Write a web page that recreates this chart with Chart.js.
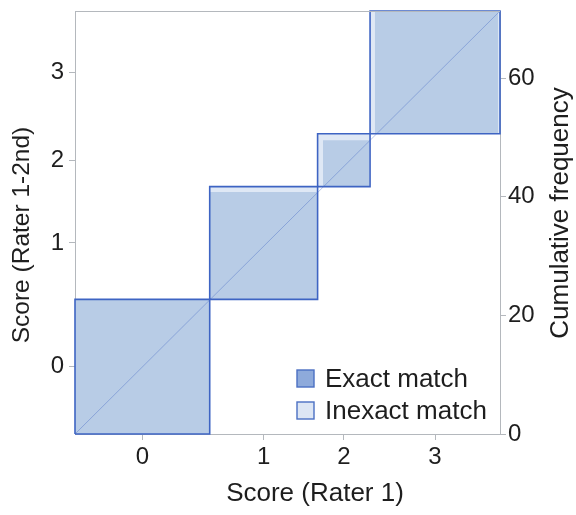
<!DOCTYPE html>
<html>
<head>
<meta charset="utf-8">
<script src="https://cdn.jsdelivr.net/npm/chart.js@4.4.1/dist/chart.umd.min.js"></script>
<style>
  html, body { margin: 0; padding: 0; background: #fff; }
  #wrap { width: 576px; height: 515px; }
</style>
</head>
<body>
<div id="wrap"><canvas id="c" width="576" height="515"></canvas></div>
<script>
// Agreement chart: rater 1 (x) vs rater 1 second reading (y), in cumulative frequency units
const categories = ['0', '1', '2', '3'];
const rater1Totals = [22.6, 18.1, 8.8, 21.8];   // marginal counts along x
const rater2Totals = [22.7, 19.0, 8.9, 20.7];   // marginal counts along y
const exactCounts = [22.6, 18.1, 7.8, 20.7];    // diagonal (exact agreement) cells
const exactOffsetX = [0, 0, 0.9, 0.8];          // off-diagonal counts preceding each exact cell along x
const exactOffsetY = [0, 0, 0, 0];              // off-diagonal counts preceding each exact cell along y
const freqTicks = [0, 20, 40, 60];

const FONT = "'Liberation Sans', Arial, Helvetica, sans-serif";
const TEXT = '#1e1e1e';
const AXIS_GREY = '#b4b8bd';
const EDGE_BLUE = '#3e64c3';
const EXACT_FILL = '#b8cce6';
const INEXACT_FILL = '#dfe8f5';

function cumulative(arr) {
  const out = [0];
  arr.forEach(v => out.push(out[out.length - 1] + v));
  return out;
}
const total = rater1Totals.reduce((a, b) => a + b, 0);
const xEdges = cumulative(rater1Totals);
const yEdges = cumulative(rater2Totals);
const xMids = categories.map((_, i) => (xEdges[i] + xEdges[i + 1]) / 2);
const yMids = categories.map((_, i) => (yEdges[i] + yEdges[i + 1]) / 2);

const datasets = [];

// block outlines (drawn on top)
categories.forEach((c, i) => {
  const x0 = xEdges[i], x1 = xEdges[i + 1], y0 = yEdges[i], y1 = yEdges[i + 1];
  datasets.push({
    label: 'outline ' + c,
    data: [{x: x0, y: y0}, {x: x1, y: y0}, {x: x1, y: y1}, {x: x0, y: y1}, {x: x0, y: y0}],
    showLine: true, fill: false, borderColor: EDGE_BLUE, borderWidth: 1.6,
    pointRadius: 0, order: 0, clip: 2
  });
});

// reference diagonal
datasets.push({
  label: 'diagonal',
  data: [{x: 0, y: 0}, {x: total, y: total}],
  showLine: true, fill: false, borderColor: 'rgba(62,100,195,0.38)', borderWidth: 1,
  pointRadius: 0, order: 1
});

// exact agreement squares
categories.forEach((c, i) => {
  const x0 = xEdges[i] + exactOffsetX[i];
  const y0 = yEdges[i] + exactOffsetY[i];
  const x1 = x0 + exactCounts[i];
  const y1 = Math.min(y0 + exactCounts[i], yEdges[i + 1]);
  datasets.push({
    label: 'exact ' + c,
    data: [{x: x0, y: y1}, {x: x1, y: y1}],
    showLine: true, fill: {value: y0}, backgroundColor: EXACT_FILL,
    borderWidth: 0, borderColor: 'rgba(0,0,0,0)', pointRadius: 0, order: 2
  });
});

// inexact agreement: the whole block
categories.forEach((c, i) => {
  datasets.push({
    label: 'inexact ' + c,
    data: [{x: xEdges[i], y: yEdges[i + 1]}, {x: xEdges[i + 1], y: yEdges[i + 1]}],
    showLine: true, fill: {value: yEdges[i]}, backgroundColor: INEXACT_FILL,
    borderWidth: 0, borderColor: 'rgba(0,0,0,0)', pointRadius: 0, order: 3
  });
});

const tickFont = {family: FONT, size: 24};
const gridOpts = {drawOnChartArea: false, drawTicks: true, tickLength: 6, color: AXIS_GREY, lineWidth: 1};

const decorations = {
  id: 'decorations',
  afterDatasetsDraw(chart) {
    const {ctx, chartArea: a} = chart;
    ctx.save();
    ctx.strokeStyle = AXIS_GREY;
    ctx.lineWidth = 1;
    ctx.beginPath();
    ctx.moveTo(a.left, a.top + 0.5);
    ctx.lineTo(a.right, a.top + 0.5);
    ctx.stroke();
    ctx.restore();
  },
  afterDraw(chart) {
    const {ctx, chartArea: a} = chart;
    ctx.save();
    ctx.fillStyle = TEXT;
    ctx.textAlign = 'center';
    ctx.textBaseline = 'middle';

    // axis titles
    ctx.font = `26px ${FONT}`;
    ctx.fillText('Score (Rater 1)', 315, 494);
    ctx.save();
    ctx.translate(561, 213);
    ctx.rotate(-Math.PI / 2);
    ctx.fillText('Cumulative frequency', 0, 0);
    ctx.restore();
    ctx.font = `24.5px ${FONT}`;
    ctx.save();
    ctx.translate(22, 235);
    ctx.rotate(-Math.PI / 2);
    ctx.fillText('Score (Rater 1-2nd)', 0, 0);
    ctx.restore();

    // legend
    ctx.font = `26px ${FONT}`;
    const lx = a.right - 203, ly = a.bottom - 64;
    const items = [['Exact match', '#8eaadb'], ['Inexact match', '#dde6f4']];
    items.forEach(([txt, col], k) => {
      const y = ly + k * 32;
      ctx.fillStyle = col;
      ctx.fillRect(lx, y, 17, 17);
      ctx.strokeStyle = '#4b6fc3';
      ctx.lineWidth = 1.4;
      ctx.strokeRect(lx, y, 17, 17);
      ctx.fillStyle = TEXT;
      ctx.textAlign = 'left';
      ctx.fillText(txt, lx + 28, y + 10);
    });
    ctx.restore();
  }
};

function fixVertical(width) {
  return s => { s.width = width; s.paddingTop = 0; s.paddingBottom = 0; };
}

new Chart(document.getElementById('c'), {
  type: 'scatter',
  data: {datasets},
  plugins: [decorations],
  options: {
    responsive: false,
    animation: false,
    layout: {padding: {top: 11, left: 0, right: 0, bottom: 0}},
    plugins: {legend: {display: false}, tooltip: {enabled: false}},
    scales: {
      x: {
        type: 'linear', position: 'bottom', min: 0, max: total,
        afterBuildTicks: s => { s.ticks = xMids.map(v => ({value: v})); },
        afterFit: s => { s.height = 81; s.paddingLeft = 0; s.paddingRight = 0; },
        ticks: {callback: (v, i) => categories[i], font: tickFont, color: TEXT, padding: 3, autoSkip: false, maxRotation: 0},
        grid: gridOpts,
        border: {display: true, color: AXIS_GREY}
      },
      y: {
        type: 'linear', position: 'left', min: 0, max: total,
        afterBuildTicks: s => { s.ticks = yMids.map(v => ({value: v})); },
        afterFit: fixVertical(75),
        ticks: {callback: (v, i) => categories[i], font: tickFont, color: TEXT, padding: 5, autoSkip: false},
        grid: gridOpts,
        border: {display: true, color: AXIS_GREY}
      },
      y2: {
        type: 'linear', position: 'right', min: 0, max: total,
        afterBuildTicks: s => { s.ticks = freqTicks.map(v => ({value: v})); },
        afterFit: fixVertical(76),
        ticks: {font: tickFont, color: TEXT, padding: 2, autoSkip: false},
        grid: gridOpts,
        border: {display: true, color: AXIS_GREY}
      }
    }
  }
});
</script>
</body>
</html>
